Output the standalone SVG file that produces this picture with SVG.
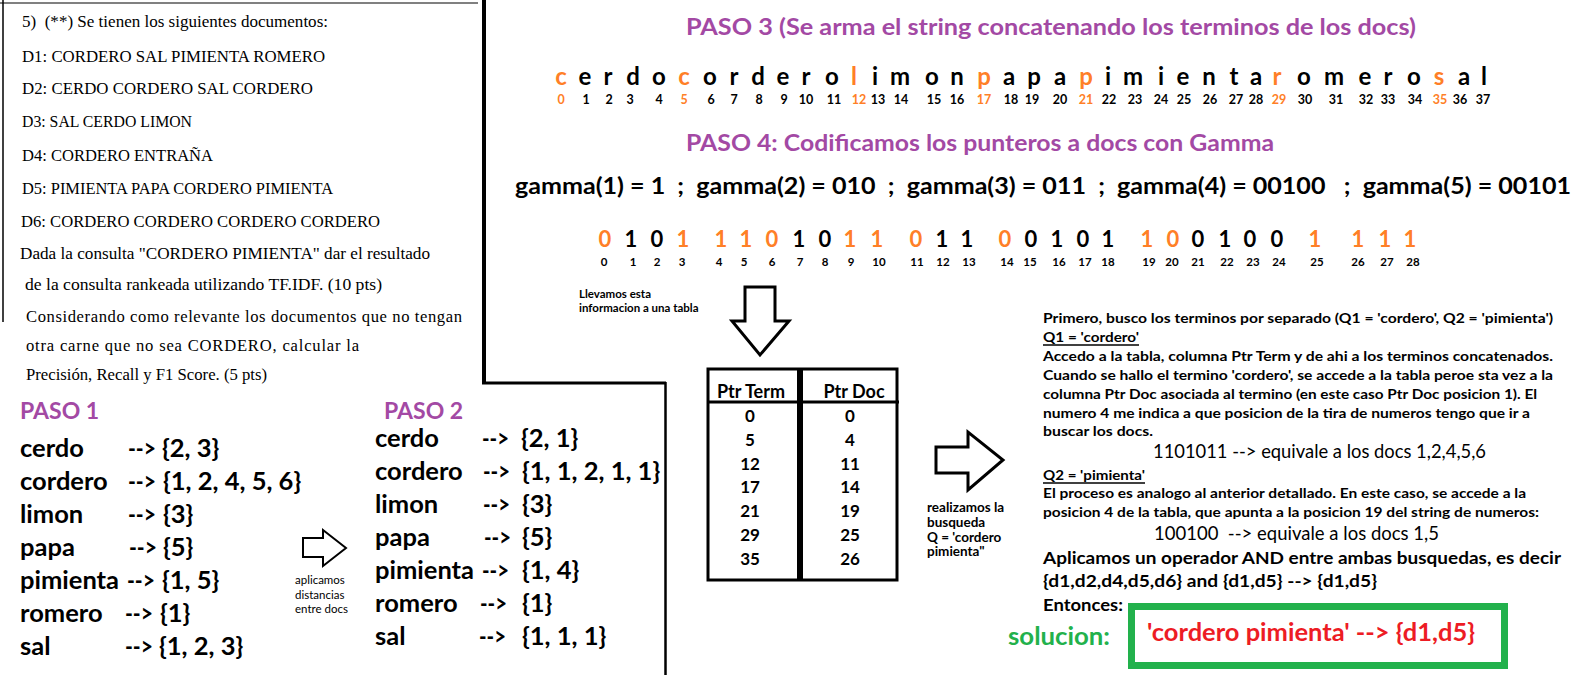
<svg xmlns="http://www.w3.org/2000/svg" width="1592" height="692" viewBox="0 0 1592 692">
<style>
.sf{font-family:"Liberation Serif","Times New Roman",serif;font-size:16.6px;fill:#000}
.b{font-family:Lato,"Noto Sans",sans-serif;font-weight:bold;fill:#000}
.r{font-family:Lato,"Noto Sans",sans-serif;font-weight:normal;fill:#000}
.pur{fill:#A349A4}
.or{fill:#FF7F27}
.t{font-size:25.5px}
.let{font-size:24px;text-anchor:middle}
.num{font-size:12.5px;text-anchor:middle}
.bit{font-size:22px;text-anchor:middle}
.bidx{font-size:11.5px;text-anchor:middle}
.sm{font-size:13.5px}
.tc{text-anchor:middle}
.ln{stroke:#000;fill:none}
.arr{fill:#fff;stroke:#000;stroke-linejoin:miter}
</style>

<g id="problem">
<text class="sf" x="22" y="27" xml:space="preserve" textLength="306" lengthAdjust="spacingAndGlyphs">5)  (**) Se tienen los siguientes documentos:</text>
<text class="sf" x="22" y="61.5" textLength="303" lengthAdjust="spacingAndGlyphs">D1: CORDERO SAL PIMIENTA ROMERO</text>
<text class="sf" x="22" y="93.5" textLength="291" lengthAdjust="spacingAndGlyphs">D2: CERDO CORDERO SAL CORDERO</text>
<text class="sf" x="22" y="127" textLength="170" lengthAdjust="spacingAndGlyphs">D3: SAL CERDO LIMON</text>
<text class="sf" x="22" y="160.5" textLength="191" lengthAdjust="spacingAndGlyphs">D4: CORDERO ENTRAÑA</text>
<text class="sf" x="22" y="193.5" textLength="311" lengthAdjust="spacingAndGlyphs">D5: PIMIENTA PAPA CORDERO PIMIENTA</text>
<text class="sf" x="21" y="227" textLength="359" lengthAdjust="spacingAndGlyphs">D6: CORDERO CORDERO CORDERO CORDERO</text>
<text class="sf" x="20" y="258.5" textLength="410" lengthAdjust="spacingAndGlyphs">Dada la consulta "CORDERO PIMIENTA" dar el resultado</text>
<text class="sf" x="25" y="290" textLength="357" lengthAdjust="spacingAndGlyphs">de la consulta rankeada utilizando TF.IDF. (10 pts)</text>
<text class="sf" x="26" y="322" textLength="436" lengthAdjust="spacing">Considerando como relevante los documentos que no tengan</text>
<text class="sf" x="26" y="351" textLength="333" lengthAdjust="spacing">otra carne que no sea CORDERO, calcular la</text>
<text class="sf" x="26" y="380" textLength="241" lengthAdjust="spacingAndGlyphs">Precisión, Recall y F1 Score. (5 pts)</text>
</g>

<g id="paso1">
<text class="b pur" x="20" y="418.5" font-size="23">PASO 1</text>
<g class="b t">
<text x="20" y="457">cerdo</text><text x="128" y="457" textLength="28" lengthAdjust="spacingAndGlyphs">--&gt;</text><text x="162" y="457">{2, 3}</text>
<text x="20" y="490">cordero</text><text x="128" y="490" textLength="28" lengthAdjust="spacingAndGlyphs">--&gt;</text><text x="163" y="490">{1, 2, 4, 5, 6}</text>
<text x="20" y="523">limon</text><text x="128" y="523" textLength="28" lengthAdjust="spacingAndGlyphs">--&gt;</text><text x="163" y="523">{3}</text>
<text x="20" y="556">papa</text><text x="129" y="556" textLength="28" lengthAdjust="spacingAndGlyphs">--&gt;</text><text x="163" y="556">{5}</text>
<text x="20" y="589">pimienta</text><text x="127" y="589" textLength="28" lengthAdjust="spacingAndGlyphs">--&gt;</text><text x="162" y="589">{1, 5}</text>
<text x="20" y="622">romero</text><text x="125" y="622" textLength="28" lengthAdjust="spacingAndGlyphs">--&gt;</text><text x="160" y="622">{1}</text>
<text x="20" y="655">sal</text><text x="125" y="655" textLength="28" lengthAdjust="spacingAndGlyphs">--&gt;</text><text x="159" y="655">{1, 2, 3}</text>
</g>
<g class="r" font-size="11.5">
<text x="295" y="584">aplicamos</text>
<text x="295" y="598.5">distancias</text>
<text x="295" y="613">entre docs</text>
</g>
</g>

<g id="paso2">
<text class="b pur" x="384" y="418.5" font-size="23">PASO 2</text>
<g class="b t">
<text x="375" y="447">cerdo</text><text x="482" y="447" textLength="27" lengthAdjust="spacingAndGlyphs">--&gt;</text><text x="521" y="447">{2, 1}</text>
<text x="375" y="480">cordero</text><text x="483" y="480" textLength="27" lengthAdjust="spacingAndGlyphs">--&gt;</text><text x="522" y="480">{1, 1, 2, 1, 1}</text>
<text x="375" y="513">limon</text><text x="483" y="513" textLength="27" lengthAdjust="spacingAndGlyphs">--&gt;</text><text x="522" y="513">{3}</text>
<text x="375" y="546">papa</text><text x="484" y="546" textLength="27" lengthAdjust="spacingAndGlyphs">--&gt;</text><text x="522" y="546">{5}</text>
<text x="375" y="579">pimienta</text><text x="482" y="579" textLength="27" lengthAdjust="spacingAndGlyphs">--&gt;</text><text x="522" y="579">{1, 4}</text>
<text x="375" y="612">romero</text><text x="480" y="612" textLength="27" lengthAdjust="spacingAndGlyphs">--&gt;</text><text x="522" y="612">{1}</text>
<text x="375" y="645">sal</text><text x="479" y="645" textLength="27" lengthAdjust="spacingAndGlyphs">--&gt;</text><text x="522" y="645">{1, 1, 1}</text>
</g>
</g>

<g id="paso3">
<text class="b pur" x="686" y="35" font-size="22" textLength="730" lengthAdjust="spacingAndGlyphs">PASO 3 (Se arma el string concatenando los terminos de los docs)</text>
<g class="b let">
<text x="561" y="85" class="or">c</text><text x="585" y="85">e</text><text x="608" y="85">r</text><text x="633" y="85">d</text><text x="659" y="85">o</text>
<text x="684" y="85" class="or">c</text><text x="710" y="85">o</text><text x="734" y="85">r</text><text x="758" y="85">d</text><text x="783" y="85">e</text><text x="806" y="85">r</text><text x="832" y="85">o</text>
<text x="854" y="85" class="or">l</text><text x="875" y="85">i</text><text x="900" y="85">m</text><text x="932" y="85">o</text><text x="957" y="85">n</text>
<text x="984" y="85" class="or">p</text><text x="1009" y="85">a</text><text x="1034" y="85">p</text><text x="1060" y="85">a</text>
<text x="1086" y="85" class="or">p</text><text x="1108" y="85">i</text><text x="1133" y="85">m</text><text x="1161" y="85">i</text><text x="1183" y="85">e</text><text x="1209" y="85">n</text><text x="1234" y="85">t</text><text x="1256" y="85">a</text>
<text x="1277" y="85" class="or">r</text><text x="1304" y="85">o</text><text x="1334" y="85">m</text><text x="1365" y="85">e</text><text x="1388" y="85">r</text><text x="1414" y="85">o</text>
<text x="1439" y="85" class="or">s</text><text x="1464" y="85">a</text><text x="1484" y="85">l</text>
</g>
<g class="b num">
<text x="561" y="104" class="or">0</text><text x="586" y="104">1</text><text x="609" y="104">2</text><text x="630" y="104">3</text><text x="659" y="104">4</text>
<text x="684" y="104" class="or">5</text><text x="711" y="104">6</text><text x="734" y="104">7</text><text x="759" y="104">8</text><text x="784" y="104">9</text><text x="806" y="104">10</text><text x="834" y="104">11</text>
<text x="859" y="104" class="or">12</text><text x="878" y="104">13</text><text x="901" y="104">14</text><text x="934" y="104">15</text><text x="957" y="104">16</text>
<text x="984" y="104" class="or">17</text><text x="1011" y="104">18</text><text x="1032" y="104">19</text><text x="1060" y="104">20</text>
<text x="1086" y="104" class="or">21</text><text x="1109" y="104">22</text><text x="1135" y="104">23</text><text x="1161" y="104">24</text><text x="1184" y="104">25</text><text x="1210" y="104">26</text><text x="1236" y="104">27</text><text x="1256" y="104">28</text>
<text x="1279" y="104" class="or">29</text><text x="1305" y="104">30</text><text x="1336" y="104">31</text><text x="1366" y="104">32</text><text x="1388" y="104">33</text><text x="1415" y="104">34</text>
<text x="1440" y="104" class="or">35</text><text x="1460" y="104">36</text><text x="1483" y="104">37</text>
</g>
</g>

<g id="paso4">
<text class="b pur" x="686" y="151" font-size="22" textLength="588" lengthAdjust="spacingAndGlyphs">PASO 4: Codificamos los punteros a docs con Gamma</text>
<text class="b" x="515" y="194" font-size="23" xml:space="preserve" textLength="1056" lengthAdjust="spacingAndGlyphs">gamma(1) = 1  ;  gamma(2) = 010  ;  gamma(3) = 011  ;  gamma(4) = 00100   ;  gamma(5) = 00101</text>
<g class="b bit">
<text x="605" y="247" class="or">0</text><text x="631" y="247">1</text><text x="657" y="247">0</text><text x="683" y="247" class="or">1</text>
<text x="721" y="247" class="or">1</text><text x="746" y="247" class="or">1</text><text x="772" y="247" class="or">0</text><text x="799" y="247">1</text><text x="825" y="247">0</text><text x="850" y="247" class="or">1</text><text x="877" y="247" class="or">1</text>
<text x="916" y="247" class="or">0</text><text x="942" y="247">1</text><text x="967" y="247">1</text>
<text x="1005" y="247" class="or">0</text><text x="1031" y="247">0</text><text x="1057" y="247">1</text><text x="1083" y="247">0</text><text x="1108" y="247">1</text>
<text x="1147" y="247" class="or">1</text><text x="1173" y="247" class="or">0</text><text x="1198" y="247">0</text><text x="1225" y="247">1</text><text x="1250" y="247">0</text><text x="1277" y="247">0</text>
<text x="1315" y="247" class="or">1</text>
<text x="1358" y="247" class="or">1</text><text x="1385" y="247" class="or">1</text><text x="1410" y="247" class="or">1</text>
</g>
<g class="b bidx">
<text x="604" y="266">0</text><text x="633" y="266">1</text><text x="657" y="266">2</text><text x="682" y="266">3</text>
<text x="719" y="266">4</text><text x="744" y="266">5</text><text x="772" y="266">6</text><text x="800" y="266">7</text><text x="825" y="266">8</text><text x="851" y="266">9</text><text x="879" y="266">10</text>
<text x="917" y="266">11</text><text x="943" y="266">12</text><text x="969" y="266">13</text>
<text x="1007" y="266">14</text><text x="1030" y="266">15</text><text x="1059" y="266">16</text><text x="1085" y="266">17</text><text x="1108" y="266">18</text>
<text x="1149" y="266">19</text><text x="1172" y="266">20</text><text x="1198" y="266">21</text><text x="1227" y="266">22</text><text x="1253" y="266">23</text><text x="1279" y="266">24</text>
<text x="1317" y="266">25</text>
<text x="1358" y="266">26</text><text x="1387" y="266">27</text><text x="1413" y="266">28</text>
</g>
<g class="b" font-size="11.5">
<text x="579" y="298">Llevamos esta</text>
<text x="579" y="312">informacion a una tabla</text>
</g>
</g>

<g id="table">
<rect x="708" y="369" width="189" height="211" fill="none" stroke="#000" stroke-width="3"/>
<rect x="797" y="369" width="6" height="211" fill="#000"/>
<line x1="708" y1="402" x2="899" y2="402" stroke="#000" stroke-width="3"/>
<text class="b tc" x="751" y="398" font-size="18">Ptr Term</text>
<text class="b tc" x="854" y="398" font-size="18">Ptr Doc</text>
<g class="b tc" font-size="17">
<text x="750" y="422">0</text><text x="850" y="422">0</text>
<text x="750" y="445.8">5</text><text x="850" y="445.8">4</text>
<text x="750" y="469.6">12</text><text x="850" y="469.6">11</text>
<text x="750" y="493.4">17</text><text x="850" y="493.4">14</text>
<text x="750" y="517.2">21</text><text x="850" y="517.2">19</text>
<text x="750" y="541">29</text><text x="850" y="541">25</text>
<text x="750" y="564.8">35</text><text x="850" y="564.8">26</text>
</g>
</g>

<g id="search-label" class="b" font-size="13.5">
<text x="927" y="512">realizamos la</text>
<text x="927" y="527">busqueda</text>
<text x="927" y="542">Q = 'cordero</text>
<text x="927" y="556">pimienta"</text>
</g>

<g id="explanation">
<g class="b sm">
<text x="1043" y="323" textLength="510" lengthAdjust="spacingAndGlyphs">Primero, busco los terminos por separado (Q1 = 'cordero', Q2 = 'pimienta')</text>
<text x="1043" y="342" textLength="96" lengthAdjust="spacingAndGlyphs">Q1 = 'cordero'</text>
<text x="1043" y="361" textLength="510" lengthAdjust="spacingAndGlyphs">Accedo a la tabla, columna Ptr Term y de ahi a los terminos concatenados.</text>
<text x="1043" y="380" textLength="510" lengthAdjust="spacingAndGlyphs">Cuando se hallo el termino 'cordero', se accede a la tabla peroe sta vez a la</text>
<text x="1043" y="399" textLength="494" lengthAdjust="spacingAndGlyphs">columna Ptr Doc asociada al termino (en este caso Ptr Doc posicion 1). El</text>
<text x="1043" y="418" textLength="487" lengthAdjust="spacingAndGlyphs">numero 4 me indica a que posicion de la tira de numeros tengo que ir a</text>
<text x="1043" y="436" textLength="110" lengthAdjust="spacingAndGlyphs">buscar los docs.</text>
<text x="1043" y="480" textLength="102" lengthAdjust="spacingAndGlyphs">Q2 = 'pimienta'</text>
<text x="1043" y="498" textLength="483" lengthAdjust="spacingAndGlyphs">El proceso es analogo al anterior detallado. En este caso, se accede a la</text>
<text x="1043" y="517" textLength="496" lengthAdjust="spacingAndGlyphs">posicion 4 de la tabla, que apunta a la posicion 19 del string de numeros:</text>
</g>
<line x1="1043" y1="345" x2="1139" y2="345" stroke="#000" stroke-width="1.3"/>
<line x1="1043" y1="483" x2="1145" y2="483" stroke="#000" stroke-width="1.3"/>
<text class="r" x="1153" y="458" font-size="19" textLength="333" lengthAdjust="spacingAndGlyphs">1101011 --&gt; equivale a los docs 1,2,4,5,6</text>
<text class="r" x="1154" y="540" font-size="19" xml:space="preserve" textLength="285" lengthAdjust="spacingAndGlyphs">100100  --&gt; equivale a los docs 1,5</text>
<g class="b" font-size="17.5">
<text x="1043" y="564" textLength="518" lengthAdjust="spacingAndGlyphs">Aplicamos un operador AND entre ambas busquedas, es decir</text>
<text x="1043" y="587" textLength="334" lengthAdjust="spacingAndGlyphs">{d1,d2,d4,d5,d6} and {d1,d5} --&gt; {d1,d5}</text>
<text x="1043" y="611" textLength="80" lengthAdjust="spacingAndGlyphs">Entonces:</text>
</g>
</g>

<g id="solution">
<text class="b" x="1008" y="645" font-size="25" style="fill:#22B14C" textLength="102" lengthAdjust="spacingAndGlyphs">solucion:</text>
<rect x="1131.5" y="606.5" width="373" height="59" fill="none" stroke="#22B14C" stroke-width="7"/>
<text class="b" x="1147" y="641" font-size="24" style="fill:#ED1C24" textLength="328" lengthAdjust="spacingAndGlyphs">'cordero pimienta' --&gt; {d1,d5}</text>
</g>

<g id="connectors">
<line x1="0" y1="3" x2="478" y2="3" stroke="#808080" stroke-width="2"/>
<line x1="3" y1="0" x2="3" y2="322" class="ln" stroke-width="1.5"/>
<line x1="484" y1="0" x2="484" y2="384" class="ln" stroke-width="4"/>
<line x1="482" y1="383" x2="666" y2="383" class="ln" stroke-width="3"/>
<line x1="665.5" y1="382" x2="665.5" y2="675" class="ln" stroke-width="2.5"/>
<polygon class="arr" stroke-width="2" points="303,538 323,538 323,530 346,548 323,566 323,557 303,557"/>
<polygon class="arr" stroke-width="3" points="745,287 775,287 775,321 789,321 760,355 732,321 745,321"/>
<polygon class="arr" stroke-width="3" points="936,447 968,447 968,432 1003,460 968,490 968,473 936,473"/>
</g>
</svg>
